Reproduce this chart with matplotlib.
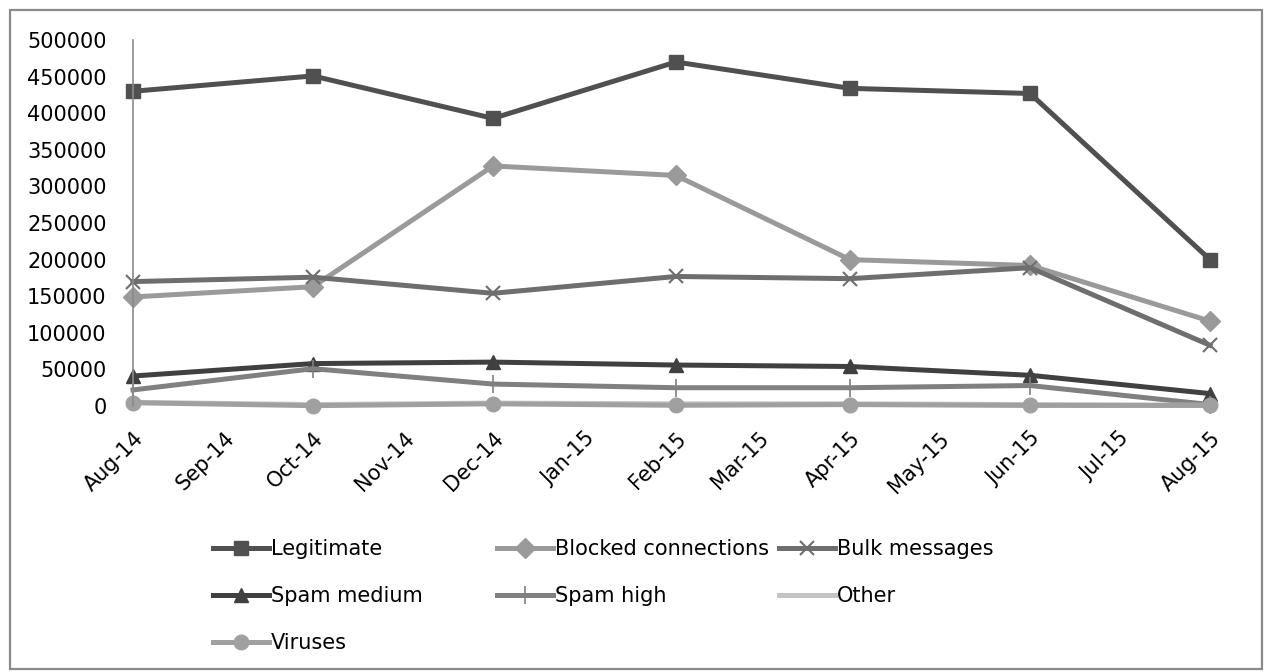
import pandas as pd
import numpy as np
import matplotlib
matplotlib.use('Agg')
import matplotlib.pyplot as plt
from matplotlib.patches import Rectangle

# data points are every second month
dates = pd.to_datetime(['2014-08-01', '2014-10-01', '2014-12-01', '2015-02-01',
                        '2015-04-01', '2015-06-01', '2015-08-01'])
legitimate = [430000, 451000, 393000, 470000, 434000, 427000, 200000]
blocked = [149000, 163000, 328000, 315000, 200000, 192000, 116000]
bulk = [170000, 176000, 154000, 177000, 174000, 189000, 83000]
spam_medium = [41000, 58000, 60000, 56000, 54000, 42000, 17000]
spam_high = [22000, 51000, 30000, 25000, 25000, 28000, 2000]
other = [5000, 2000, 4000, 3000, 3000, 2000, 1000]
viruses = [4500, 500, 3000, 1000, 2000, 800, 800]

tick_months = pd.date_range('2014-08-01', '2015-08-01', freq='MS')

plt.rcParams['font.family'] = ['DejaVu Sans']
fs = 15

fig = plt.figure(figsize=(12.64, 6.72), dpi=100)
ax = fig.add_axes([0.1052, 0.3958, 0.8521, 0.5446])

lw = 3.6
h_legit, = ax.plot(dates, legitimate, color='#505050', lw=lw, marker='s', ms=10.5, label='Legitimate')
h_block, = ax.plot(dates, blocked, color='#9a9a9a', lw=lw, marker='D', ms=10.5, label='Blocked connections')
h_bulk, = ax.plot(dates, bulk, color='#6e6e6e', lw=lw, marker='x', ms=10, mew=1.5, label='Bulk messages')
h_smed, = ax.plot(dates, spam_medium, color='#404040', lw=lw, marker='^', ms=10, label='Spam medium')
h_shigh, = ax.plot(dates, spam_high, color='#808080', lw=lw, marker='|', ms=13, mew=1.2, label='Spam high')
h_other, = ax.plot(dates, other, color='#c4c4c4', lw=lw, label='Other')
h_vir, = ax.plot(dates, viruses, color='#a0a0a0', lw=lw, marker='o', ms=10.5, label='Viruses')

ax.set_xlim(tick_months[0], tick_months[-1])
ax.set_ylim(0, 500000)
ax.set_yticks(np.arange(0, 500001, 50000))
ax.set_yticklabels([str(v) for v in range(0, 500001, 50000)], fontsize=fs)
ax.set_xticks(tick_months)
ax.set_xticklabels([d.strftime('%b-%y') for d in tick_months], fontsize=fs,
                   rotation=45, ha='right', rotation_mode='anchor')
ax.tick_params(axis='both', length=0)
ax.tick_params(axis='y', pad=19)
ax.tick_params(axis='x', pad=16)
for s in ['top', 'right', 'bottom']:
    ax.spines[s].set_visible(False)
ax.spines['left'].set_color('#8a8a8a')
ax.spines['left'].set_linewidth(1.2)
for ln in ax.lines:
    ln.set_clip_on(False)

# legend: three equal-width columns like the original
cols = [([h_legit, h_smed, h_vir], 0.1685),
        ([h_block, h_shigh], 0.3932),
        ([h_bulk, h_other], 0.6163)]
for handles, xpos in cols:
    fig.legend(handles=handles, loc='upper left', bbox_to_anchor=(xpos, 0.198),
               frameon=False, fontsize=fs, handlelength=2.7, handletextpad=0.1,
               labelspacing=1.3, borderpad=0, borderaxespad=0)

fig.patches.append(Rectangle((0.0079, 0.004), 0.9905, 0.981, transform=fig.transFigure,
                             fill=False, edgecolor='#8a8a8a', lw=1.6))

fig.savefig('out.png', dpi=100)
